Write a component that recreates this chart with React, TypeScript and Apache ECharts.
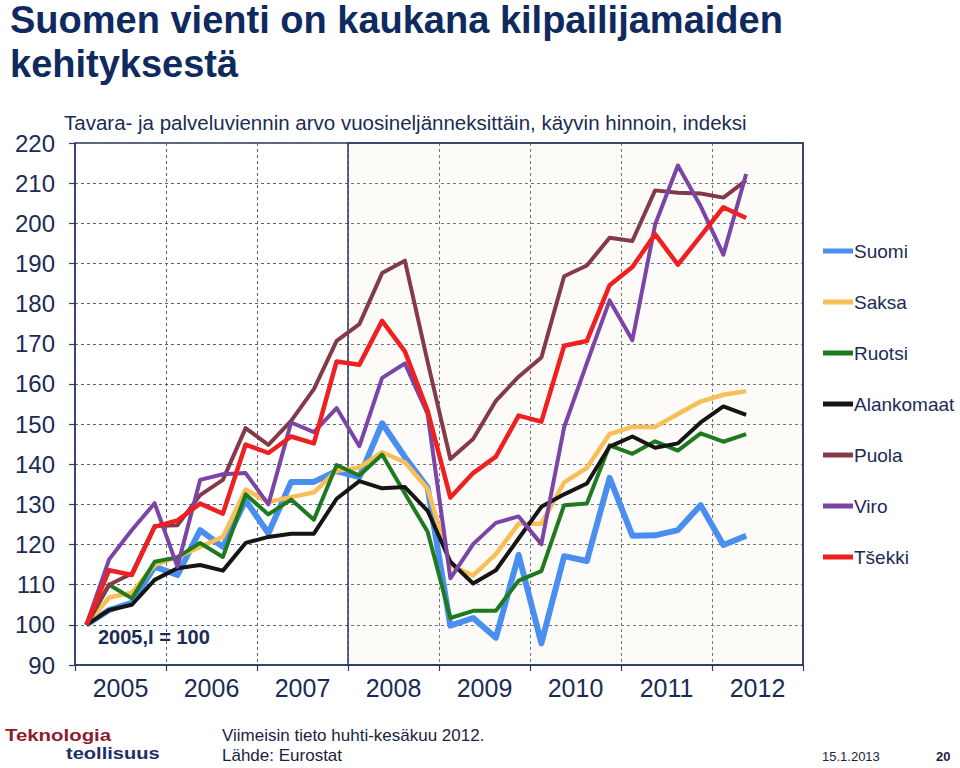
import React, { useEffect, useRef } from "react";
import * as echarts from "echarts";

const years = ["2005", "2006", "2007", "2008", "2009", "2010", "2011", "2012"];
const yTicks = { min: 90, max: 220, step: 10 };

// Quarterly index, 2005 Q1 = 100, through 2012 Q2 (30 quarters)
const suomi = [100, 103.7, 105.5, 114.5, 112.4, 123.6, 119.4, 131, 122.8, 135.6, 135.6, 138.3, 136.8, 150.2, 141.8, 134.2, 99.8, 101.7, 96.8, 117.4, 95.4, 117.1, 115.9, 136.6, 122.2, 122.3, 123.6, 129.8, 119.9, 122.2];
const saksa = [100, 106.8, 108, 114.9, 116.9, 119.4, 121.9, 133.7, 130.6, 131.8, 133, 138.4, 139.2, 143, 140.5, 133.9, 114.8, 112.3, 117.6, 125.2, 125.2, 135.5, 139.1, 147.5, 149.3, 149.3, 152.5, 155.6, 157.3, 158.2];
const ruotsi = [100, 110, 106.6, 115.7, 116.8, 120.4, 116.9, 132.5, 127.5, 131.2, 126.2, 139.8, 137.2, 142.4, 132.7, 123.2, 101.7, 103.5, 103.5, 111, 113.4, 129.8, 130.2, 144.7, 142.6, 145.7, 143.4, 147.7, 145.6, 147.5];
const alankomaat = [100, 103.7, 105, 111.2, 114.1, 114.9, 113.5, 120.4, 121.9, 122.7, 122.7, 131.4, 135.8, 134, 134.3, 128.4, 115.7, 110.3, 113.6, 121.5, 129.4, 132.5, 135.2, 144.4, 146.9, 144.1, 145.2, 150.4, 154.4, 152.3];
const puola = [100, 110, 112.8, 124.6, 124.8, 132.3, 136.1, 149, 144.8, 150.8, 158.7, 170.7, 174.9, 187.6, 190.7, 165.5, 141.3, 146.3, 155.8, 161.8, 166.6, 186.8, 189.5, 196.4, 195.6, 208.2, 207.6, 207.4, 206.4, 210.7];
const viro = [100, 116.3, 123.6, 130.3, 114.5, 136.1, 137.5, 137.8, 130, 150.4, 148, 154, 144.5, 161.5, 165.1, 152.5, 111.6, 120.1, 125.4, 127, 120.1, 149.2, 165.2, 180.8, 170.9, 199.7, 214.4, 204.3, 192.2, 212.3];
const tsekki = [100, 113.6, 112.4, 124.4, 126, 130.2, 127.7, 144.9, 142.8, 146.9, 145.2, 165.6, 164.8, 175.7, 168.1, 153.3, 131.7, 137.8, 141.9, 152.1, 150.6, 169.5, 170.7, 184.6, 189.1, 197.3, 189.7, 196.8, 204, 201.3];

const seriesDefs = [
  { name: "Suomi", data: suomi, color: "#4a8ff0", width: 6 },
  { name: "Saksa", data: saksa, color: "#f7bf55", width: 4.5 },
  { name: "Ruotsi", data: ruotsi, color: "#1f7a1f", width: 4 },
  { name: "Alankomaat", data: alankomaat, color: "#151515", width: 4 },
  { name: "Puola", data: puola, color: "#843a48", width: 4 },
  { name: "Viro", data: viro, color: "#7b45a6", width: 4 },
  { name: "Tšekki", data: tsekki, color: "#f02020", width: 4.5 },
];

const NAVY = "#1b2b55";
const AXIS = "#2b3a63";
const FONT = "Arial, 'Liberation Sans', sans-serif";

export default function App() {
  const ref = useRef<HTMLDivElement>(null);

  useEffect(() => {
    if (!ref.current) return;
    const chart = echarts.init(ref.current, undefined, { renderer: "svg" });
    const quartersPerYear = 4;
    const totalQuarters = years.length * quartersPerYear;

    const series: any[] = seriesDefs.map((s, idx) => ({
      name: s.name,
      type: "line",
      xAxisIndex: 0,
      yAxisIndex: 0,
      data: s.data.map((v, i) => [i + 0.5, v]),
      symbol: "none",
      color: s.color,
      lineStyle: { color: s.color, width: s.width, join: "round" },
      z: 3 + idx,
      ...(idx === 0
        ? {
            markArea: {
              silent: true,
              itemStyle: {
                color: "rgba(240,230,200,0.15)",
                borderColor: AXIS,
                borderWidth: 1.5,
              },
              data: [[{ xAxis: 12, yAxis: yTicks.min }, { xAxis: totalQuarters, yAxis: yTicks.max }]],
            },
          }
        : {}),
    }));

    chart.setOption({
      animation: false,
      backgroundColor: "#ffffff",
      grid: {
        left: 75,
        top: 143,
        width: 728,
        height: 522,
        show: true,
        borderColor: AXIS,
        borderWidth: 1.5,
        backgroundColor: "transparent",
      },
      xAxis: [
        {
          type: "value",
          min: 0,
          max: totalQuarters,
          interval: quartersPerYear,
          axisLine: { show: true, lineStyle: { color: AXIS, width: 1.5 } },
          axisTick: { show: true, length: 6, lineStyle: { color: AXIS, width: 1.2 } },
          axisLabel: { show: false },
          splitLine: { show: true, lineStyle: { type: [3, 3], color: "#56627a", width: 1 } },
        },
        {
          type: "category",
          data: years,
          position: "bottom",
          boundaryGap: true,
          axisLine: { show: false },
          axisTick: { show: false },
          splitLine: { show: false },
          axisLabel: { fontSize: 25, color: NAVY, margin: 10, fontFamily: FONT },
        },
      ],
      yAxis: {
        type: "value",
        min: yTicks.min,
        max: yTicks.max,
        interval: yTicks.step,
        axisLine: { show: true, lineStyle: { color: AXIS, width: 1.5 } },
        axisTick: { show: true, length: 6, lineStyle: { color: AXIS, width: 1.2 } },
        axisLabel: { fontSize: 24, color: NAVY, margin: 20, fontFamily: FONT },
        splitLine: { show: true, lineStyle: { type: [3, 3], color: "#56627a", width: 1 } },
      },
      legend: {
        orient: "vertical",
        left: 818,
        top: 236,
        icon: "rect",
        itemWidth: 30,
        itemHeight: 5,
        itemGap: 31,
        data: seriesDefs.map((s) => s.name),
        textStyle: { fontSize: 19, color: NAVY, fontFamily: FONT, lineHeight: 20, padding: [0, 0, 0, -4] },
      },
      graphic: [
        {
          type: "text",
          left: 10,
          top: 1,
          style: {
            text: "Suomen vienti on kaukana kilpailijamaiden",
            font: `bold 38px ${FONT}`,
            fill: "#0f2a5e",
          },
        },
        {
          type: "text",
          left: 10,
          top: 45,
          style: { text: "kehityksestä", font: `bold 38px ${FONT}`, fill: "#0f2a5e" },
        },
        {
          type: "text",
          left: 64,
          top: 112,
          style: {
            text: "Tavara- ja palveluviennin arvo vuosineljänneksittäin, käyvin hinnoin, indeksi",
            font: `20.5px ${FONT}`,
            fill: NAVY,
          },
        },
        {
          type: "text",
          left: 98,
          top: 627,
          z: 20,
          style: { text: "2005,I = 100", font: `bold 20px ${FONT}`, fill: NAVY },
        },
        {
          type: "text",
          x: 5,
          y: 727,
          scaleX: 1.2,
          style: { text: "Teknologia", font: `bold 17px ${FONT}`, fill: "#8c1c2e", textVerticalAlign: "top" },
        },
        {
          type: "text",
          x: 66,
          y: 745,
          scaleX: 1.18,
          style: { text: "teollisuus", font: `bold 17px ${FONT}`, fill: "#1b2f6a", textVerticalAlign: "top" },
        },
        {
          type: "text",
          left: 222,
          top: 727,
          style: { text: "Viimeisin tieto huhti-kesäkuu 2012.", font: `17px ${FONT}`, fill: "#1a2440" },
        },
        {
          type: "text",
          left: 222,
          top: 747,
          style: { text: "Lähde: Eurostat", font: `17px ${FONT}`, fill: "#1a2440" },
        },
        {
          type: "text",
          left: 822,
          top: 750,
          style: { text: "15.1.2013", font: `13px ${FONT}`, fill: "#1a2440" },
        },
        {
          type: "text",
          left: 936,
          top: 750,
          style: { text: "20", font: `bold 13px ${FONT}`, fill: "#1a2440" },
        },
      ],
      series,
    });

    return () => chart.dispose();
  }, []);

  return (
    <div
      ref={ref}
      style={{ position: "fixed", left: 0, top: 0, width: 960, height: 768, background: "#fff" }}
    />
  );
}
